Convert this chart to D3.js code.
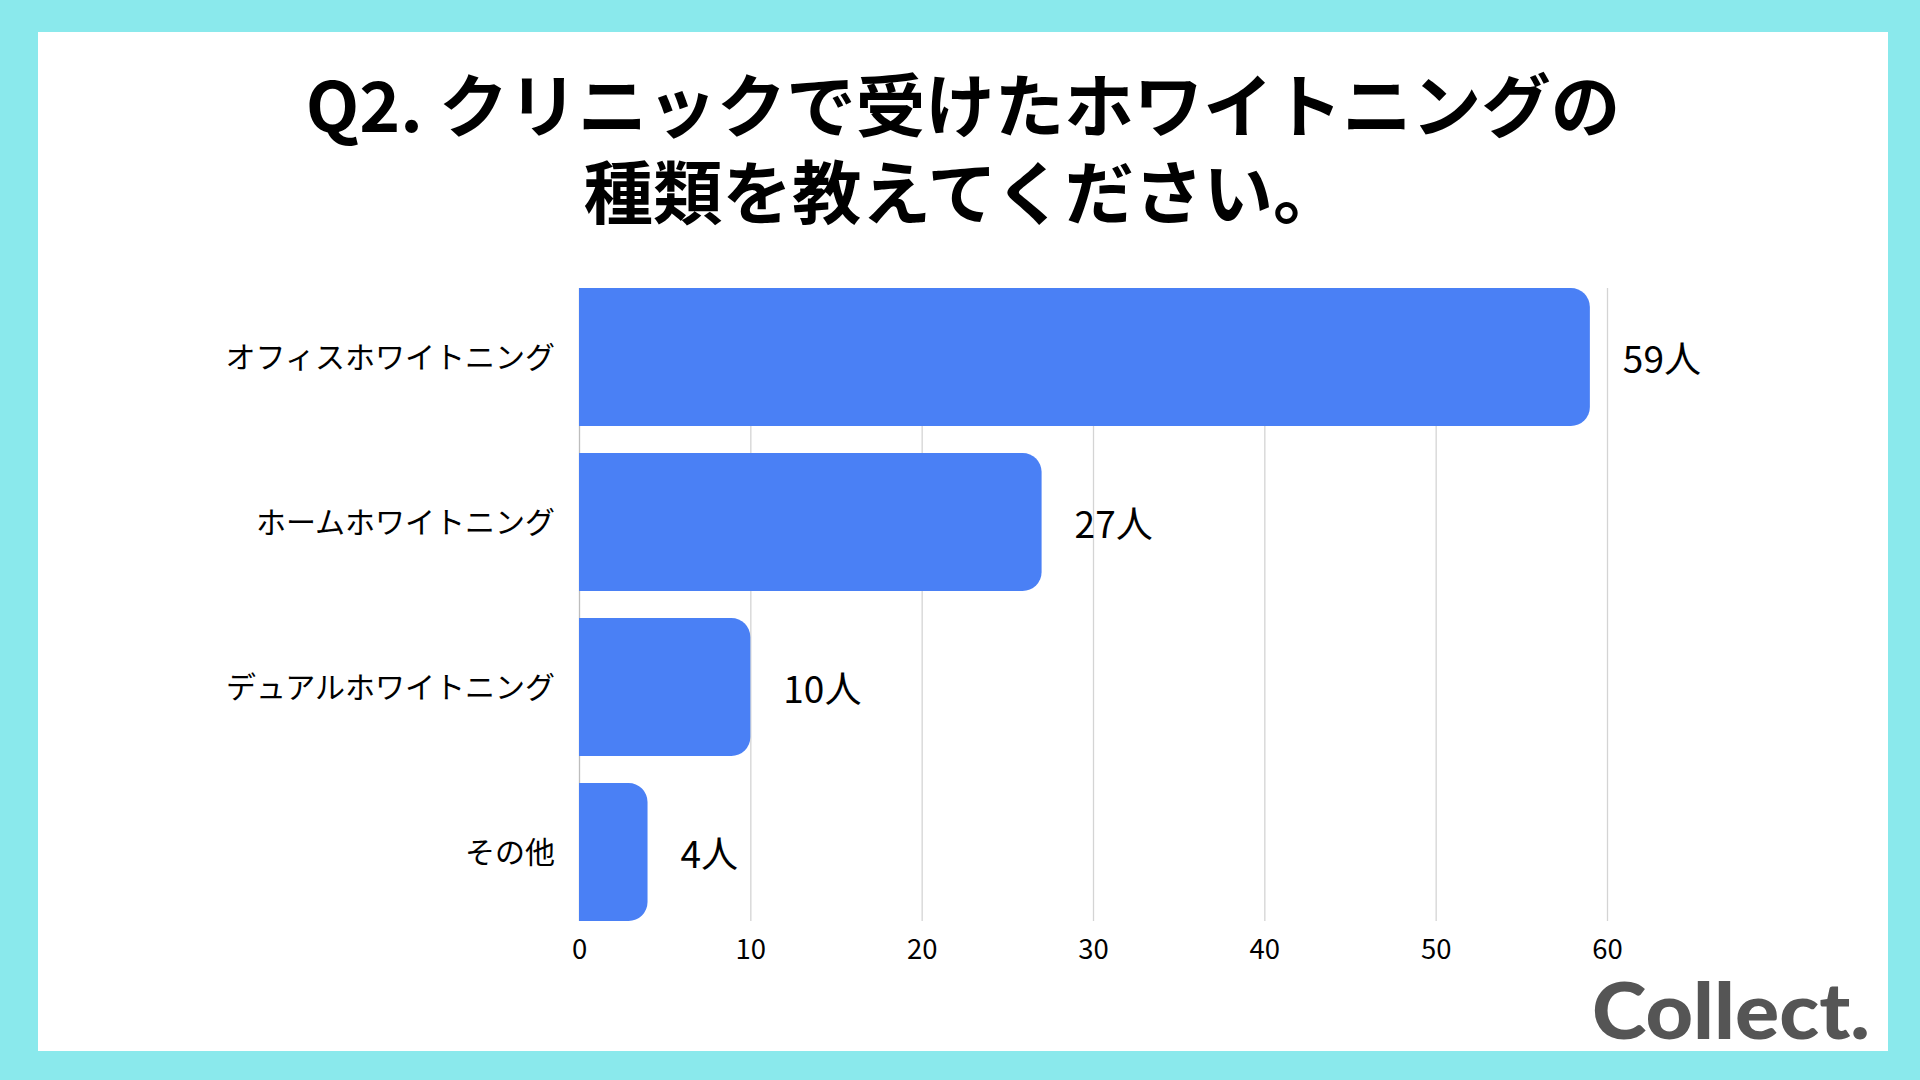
<!DOCTYPE html>
<html>
<head>
<meta charset="utf-8">
<script src="https://cdn.jsdelivr.net/npm/d3@7"></script>
<style>
  html, body { margin: 0; padding: 0; background: #8ae9ec; }
  svg { display: block; }
</style>
</head>
<body>
<svg id="chart" width="1920" height="1080"></svg>
<script>
// ---- data ----
const titleLines = ["Q2. クリニックで受けたホワイトニングの", "種類を教えてください。"];
const categories = ["オフィスホワイトニング", "ホームホワイトニング", "デュアルホワイトニング", "その他"];
const values = [59, 27, 10, 4];
const tickValues = [0, 10, 20, 30, 40, 50, 60];
const unit = "人";
const brand = "Collect.";

// ---- layout ----
const W = 1920, H = 1080;
const svg = d3.select("#chart");
const JP = "'Noto Sans CJK JP', 'Noto Sans', sans-serif";

svg.append("rect").attr("width", W).attr("height", H).attr("fill", "#8ae9ec");
svg.append("rect").attr("x", 38).attr("y", 32).attr("width", 1850).attr("height", 1019).attr("fill", "#ffffff");

// title
svg.append("g").selectAll("text").data(titleLines).join("text")
  .attr("x", 963)
  .attr("y", (d, i) => 132 + i * 87)
  .attr("text-anchor", "middle")
  .attr("font-family", JP)
  .attr("font-weight", 700)
  .attr("font-size", 69.5)
  .attr("fill", "#000")
  .text(d => d);

const plotTop = 288, plotBottom = 921;
const x = d3.scaleLinear().domain([0, 60]).range([579, 1607]);
const y = d3.scaleBand().domain(categories).range([plotTop, plotBottom]).paddingInner(0.164).paddingOuter(0);

// grid + axis
const axis = d3.axisBottom(x).tickValues(tickValues).tickSizeInner(-(plotBottom - plotTop)).tickSizeOuter(0).tickFormat(d3.format("d"));
const gAxis = svg.append("g").attr("transform", `translate(0,${plotBottom})`).call(axis);
gAxis.select(".domain").remove();
gAxis.selectAll(".tick line").attr("stroke", (d) => d === 0 ? "#bdbdbd" : "#d4d4d4").attr("stroke-width", 1.3);
gAxis.selectAll(".tick text")
  .attr("y", 38).attr("dy", 0)
  .attr("font-family", JP).attr("font-size", 27.5).attr("fill", "#000");

// bars with rounded right corners
const r = 19;
function barPath(x0, y0, w, h) {
  const p = d3.path();
  const rr = Math.min(r, w, h / 2);
  p.moveTo(x0, y0);
  p.lineTo(x0 + w - rr, y0);
  p.arcTo(x0 + w, y0, x0 + w, y0 + rr, rr);
  p.lineTo(x0 + w, y0 + h - rr);
  p.arcTo(x0 + w, y0 + h, x0 + w - rr, y0 + h, rr);
  p.lineTo(x0, y0 + h);
  p.closePath();
  return p.toString();
}
const rows = categories.map((c, i) => ({ c, v: values[i] }));
svg.append("g").selectAll("path").data(rows).join("path")
  .attr("d", d => barPath(x(0), y(d.c), x(d.v) - x(0), y.bandwidth()))
  .attr("fill", "#4a80f5");

// category labels
svg.append("g").selectAll("text").data(rows).join("text")
  .attr("x", 555)
  .attr("y", d => y(d.c) + y.bandwidth() / 2)
  .attr("dy", "0.38em")
  .attr("text-anchor", "end")
  .attr("font-family", JP)
  .attr("font-size", 30)
  .attr("fill", "#000")
  .text(d => d.c);

// value labels
svg.append("g").selectAll("text").data(rows).join("text")
  .attr("x", d => x(d.v) + 33)
  .attr("y", d => y(d.c) + y.bandwidth() / 2)
  .attr("dy", "0.43em")
  .attr("font-family", JP)
  .attr("font-size", 37)
  .attr("fill", "#000")
  .text(d => d.v + unit);

// brand logo
svg.append("text")
  .attr("x", 1592).attr("y", 1039)
  .attr("font-family", "Lato, 'Open Sans', sans-serif")
  .attr("font-weight", 900)
  .attr("font-size", 78)
  .attr("textLength", 278)
  .attr("lengthAdjust", "spacingAndGlyphs")
  .attr("fill", "#555555")
  .text(brand);
</script>
</body>
</html>
